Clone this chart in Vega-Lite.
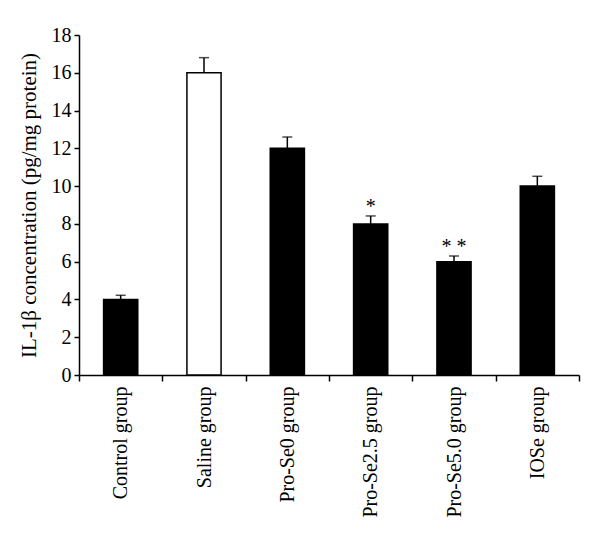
{
  "$schema": "https://vega.github.io/schema/vega-lite/v6.json",
  "width": 500,
  "height": 340,
  "autosize": "none",
  "padding": {"left": 79, "top": 35, "right": 21, "bottom": 161},
  "background": "white",
  "config": {
    "view": {"stroke": null},
    "font": "Liberation Serif",
    "axis": {
      "labelFont": "Liberation Serif",
      "titleFont": "Liberation Serif",
      "labelFontSize": 20,
      "titleFontSize": 21,
      "titleFontWeight": "normal",
      "labelColor": "black",
      "titleColor": "black",
      "domainColor": "black",
      "tickColor": "black",
      "domainWidth": 1.5,
      "tickWidth": 1.5,
      "labelOverlap": false,
      "grid": false
    }
  },
  "data": {
    "values": [
      {"group": "Control group", "value": 4.0, "err": 4.22, "sig": ""},
      {"group": "Saline group", "value": 16.0, "err": 16.8, "sig": ""},
      {"group": "Pro-Se0 group", "value": 12.0, "err": 12.6, "sig": ""},
      {"group": "Pro-Se2.5 group", "value": 8.0, "err": 8.42, "sig": "*"},
      {"group": "Pro-Se5.0 group", "value": 6.0, "err": 6.3, "sig": "* *"},
      {"group": "IOSe group", "value": 10.0, "err": 10.52, "sig": ""}
    ]
  },
  "encoding": {
    "x": {
      "field": "group",
      "type": "nominal",
      "sort": null,
      "scale": {"paddingInner": 0, "paddingOuter": 0},
      "axis": {
        "title": null,
        "labelAngle": -90,
        "tickBand": "extent",
        "ticks": true,
        "tickSize": 6,
        "labelPadding": 5,
        "encode": {"ticks": {"update": {"y2": {"value": -6}}}}
      }
    }
  },
  "layer": [
    {
      "mark": {"type": "rule", "strokeWidth": 1.5, "color": "black"},
      "encoding": {
        "y": {
          "field": "value",
          "type": "quantitative",
          "scale": {"domain": [0, 18], "nice": false},
          "axis": {
            "title": "IL-1β concentration (pg/mg protein)",
            "values": [0, 2, 4, 6, 8, 10, 12, 14, 16, 18],
            "tickSize": 5,
            "labelPadding": 3,
            "titlePadding": 12
          }
        },
        "y2": {"field": "err"}
      }
    },
    {
      "mark": {"type": "tick", "size": 10, "thickness": 1.5, "color": "black"},
      "encoding": {
        "y": {
          "field": "err",
          "type": "quantitative",
          "axis": {
            "title": "IL-1β concentration (pg/mg protein)",
            "values": [0, 2, 4, 6, 8, 10, 12, 14, 16, 18],
            "tickSize": 5,
            "labelPadding": 3,
            "titlePadding": 12
          }
        }
      }
    },
    {
      "mark": {"type": "bar", "width": {"band": 0.41}, "stroke": "black", "strokeWidth": 1.5},
      "encoding": {
        "y": {
          "field": "value",
          "type": "quantitative",
          "axis": {
            "title": "IL-1β concentration (pg/mg protein)",
            "values": [0, 2, 4, 6, 8, 10, 12, 14, 16, 18],
            "tickSize": 5,
            "labelPadding": 3,
            "titlePadding": 12
          }
        },
        "fill": {
          "condition": {"test": "datum.group === 'Saline group'", "value": "white"},
          "value": "black"
        }
      }
    },
    {
      "mark": {"type": "text", "baseline": "alphabetic", "dy": -3, "fontSize": 20, "font": "Liberation Serif", "color": "black"},
      "encoding": {
        "y": {
          "field": "err",
          "type": "quantitative",
          "axis": {
            "title": "IL-1β concentration (pg/mg protein)",
            "values": [0, 2, 4, 6, 8, 10, 12, 14, 16, 18],
            "tickSize": 5,
            "labelPadding": 3,
            "titlePadding": 12
          }
        },
        "text": {"field": "sig", "type": "nominal"}
      }
    }
  ]
}
